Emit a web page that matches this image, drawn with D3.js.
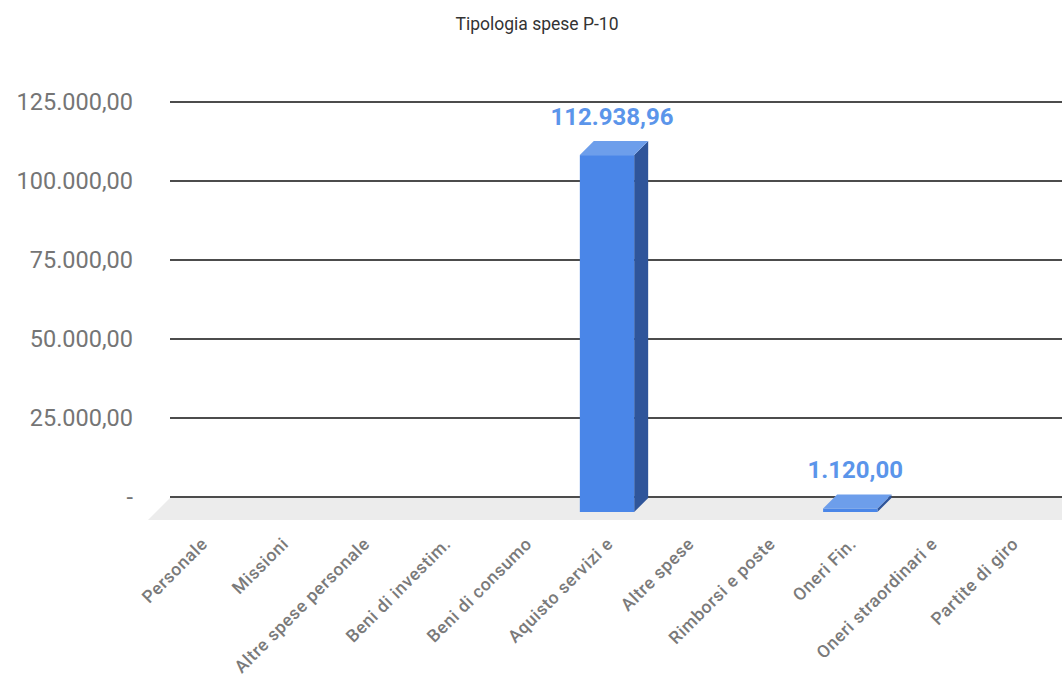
<!DOCTYPE html>
<html><head><meta charset="utf-8">
<script src="https://cdnjs.cloudflare.com/ajax/libs/d3/7.8.5/d3.min.js"></script>
<style>body{margin:0;background:#fff}svg{display:block}</style>
</head><body>
<svg id="c" width="1062" height="679"></svg>
<script>
const title = "Tipologia spese P-10";
const categories = ["Personale","Missioni","Altre spese personale","Beni di investim.","Beni di consumo","Aquisto servizi e","Altre spese","Rimborsi e poste","Oneri Fin.","Oneri straordinari e","Partite di giro"];
const values = [0,0,0,0,0,112938.96,0,0,1120,0,0];
const yTicks = [0,25000,50000,75000,100000,125000];

const svg = d3.select("#c");
const left = 170, right = 1062;
const depthX = 14, depthY = 14;
const y = d3.scaleLinear().domain([0,125000]).range([497,102]);
const x = d3.scaleBand().domain(categories).range([left,right]).paddingInner(0.33).paddingOuter(0.165);
const fmt = v => v === 0 ? "-" : new Intl.NumberFormat("it-IT",{minimumFractionDigits:2,maximumFractionDigits:2}).format(v);

svg.append("text").attr("x",537).attr("y",30).attr("text-anchor","middle")
  .attr("font-family","Roboto, Arial, sans-serif").attr("font-size",17.5).attr("fill","#333").text(title);

// floor
const floorTop = y(0)+1, floorBot = y(0)+23;
svg.append("polygon").attr("fill","#ececec")
  .attr("points",[[left,floorTop],[right,floorTop],[right,floorBot],[left-22,floorBot]].map(p=>p.join(",")).join(" "));

// gridlines
svg.append("g").selectAll("line").data(yTicks).join("line")
  .attr("x1",left).attr("x2",right).attr("y1",d=>y(d)).attr("y2",d=>y(d))
  .attr("stroke","#111").attr("stroke-width",1.6);

// y labels
svg.append("g").selectAll("text").data(yTicks).join("text")
  .attr("x",133).attr("y",d=>y(d)+8).attr("text-anchor","end")
  .attr("font-family","Roboto, Arial, sans-serif").attr("font-size",23.5).attr("fill","#757575")
  .text(d=>fmt(d));

// bars
const bw = x.bandwidth();
const data = categories.map((c,i)=>({c,v:values[i]})).filter(d=>d.v>0);
const g = svg.append("g");
data.forEach(d=>{
  const cx = x(d.c) + bw/2 - 9;
  const fl = cx - bw/2, fr = cx + bw/2;
  const fb = y(0)+depthY+1;
  const ft = y(d.v)+depthY+1;
  g.append("polygon").attr("fill","#2f559a")
    .attr("points",[[fr,ft],[fr+depthX,ft-depthY],[fr+depthX,fb-depthY],[fr,fb]].map(p=>p.join(",")).join(" "));
  g.append("rect").attr("x",fl).attr("y",ft).attr("width",bw).attr("height",fb-ft).attr("fill","#4a86e8");
  g.append("polygon").attr("fill","#6d9eeb")
    .attr("points",[[fl,ft],[fr,ft],[fr+depthX,ft-depthY],[fl+depthX,ft-depthY]].map(p=>p.join(",")).join(" "));
  g.append("text").attr("x",cx+5).attr("y",ft-depthY-16).attr("text-anchor","middle")
    .attr("font-family","Roboto, Arial, sans-serif").attr("font-weight","bold").attr("font-size",24)
    .attr("fill","#5b95ea").text(fmt(d.v));
});

// x labels
svg.append("g").selectAll("text").data(categories).join("text")
  .attr("transform",d=>`translate(${x(d)+bw/2-2},${545}) rotate(-45)`)
  .attr("text-anchor","end")
  .attr("font-family","Roboto, Arial, sans-serif").attr("font-size",17.5).attr("font-weight",500)
  .attr("letter-spacing",0.6).attr("fill","#7a7a7a")
  .text(d=>d);
</script>
</body></html>
